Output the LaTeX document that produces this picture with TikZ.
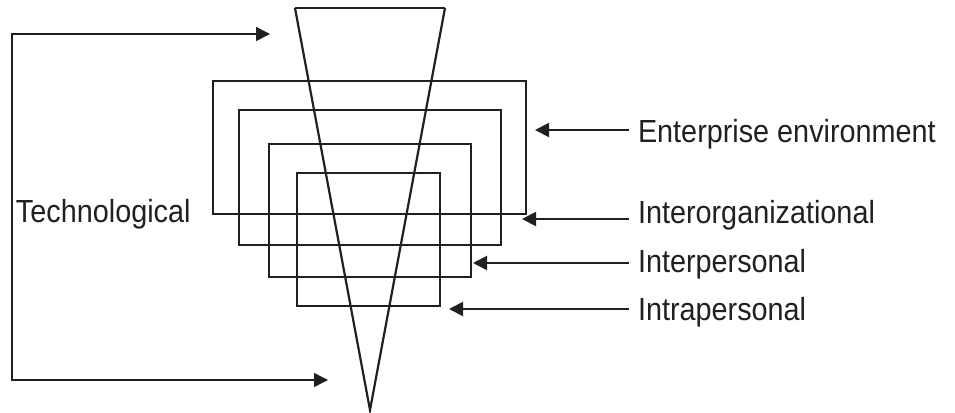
\documentclass[tikz,border=0pt]{standalone}
\usepackage{fontspec}
\setmainfont{Liberation Sans}[FakeStretch=0.9]
\usetikzlibrary{arrows.meta}
\definecolor{ink}{RGB}{35,31,32}
\tikzset{
  line/.style={draw=ink, line width=2.2pt},
  thinline/.style={draw=ink, line width=1.5pt},
  arr/.style={draw=ink, line width=2pt, -{Triangle[length=14pt,width=14pt]}},
  lbl/.style={anchor=base west, inner sep=0pt, outer xsep=9pt, text=ink,
              font=\fontsize{32pt}{32pt}\selectfont},
}
\begin{document}
\begin{tikzpicture}[x=1pt, y=-1pt]
  \useasboundingbox (0,0) rectangle (955,412);

  % nested layers
  \draw[line] (213,81) rectangle (526,214);
  \draw[line] (239,110) rectangle (501,245);
  \draw[line] (269,144) rectangle (471,277);
  \draw[line] (297,173) rectangle (440,306);

  % inverted cone
  \draw[thinline] (295,8) -- (445,8);
  \draw[line, line join=miter] (295,8) -- (370,410) -- (445,8);

  % technological bracket
  \node[lbl, outer xsep=0pt] (tech) at (16,222) {Technological};
  \coordinate (tipTop) at (270,34);
  \coordinate (tipBot) at (328,380);
  \coordinate (cornerTop) at (12,34);
  \coordinate (cornerBot) at (12,380);
  \draw[thinline, {Triangle[length=14pt,width=14pt]}-{Triangle[length=14pt,width=14pt]}]
    (tipTop) -- (cornerTop) -- (cornerBot) -- (tipBot);

  % layer labels
  \node[lbl] (env)   at (629,142) {Enterprise environment};
  \node[lbl] (inter) at (629,223) {Interorganizational};
  \node[lbl] (pers)  at (629,272) {Interpersonal};
  \node[lbl] (intra) at (629,320) {Intrapersonal};

  \coordinate (tipEnv)   at (535,130);
  \coordinate (tipInter) at (522,219);
  \coordinate (tipPers)  at (473,263);
  \coordinate (tipIntra) at (449,309);

  \draw[arr] (env.west |- tipEnv) -- (tipEnv);
  \draw[arr] (inter.west |- tipInter) -- (tipInter);
  \draw[arr] (pers.west |- tipPers) -- (tipPers);
  \draw[arr] (intra.west |- tipIntra) -- (tipIntra);
\end{tikzpicture}
\end{document}
